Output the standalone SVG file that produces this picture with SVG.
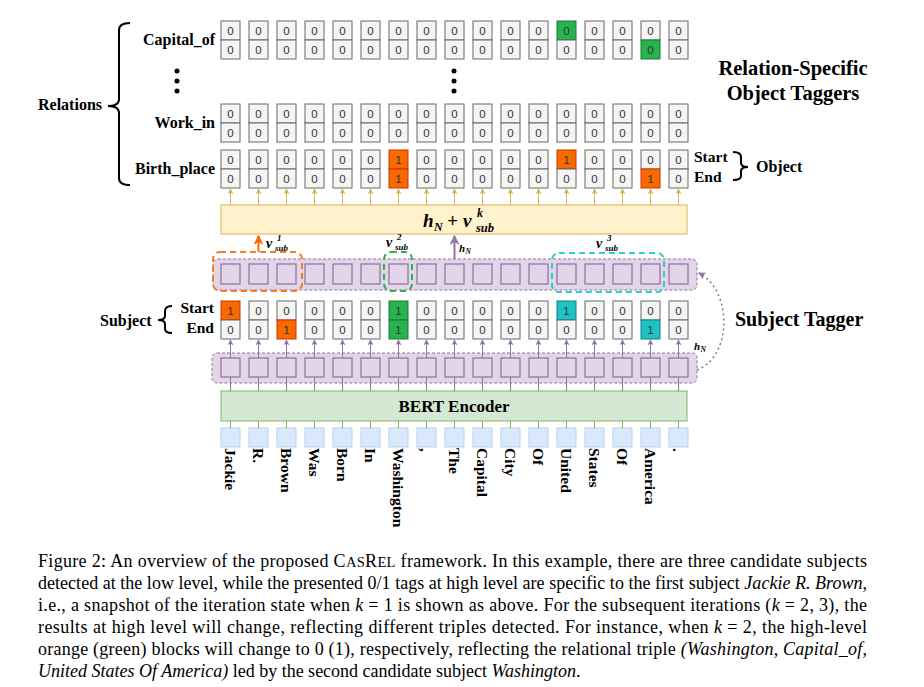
<svg xmlns="http://www.w3.org/2000/svg" width="924" height="687" viewBox="0 0 924 687">
<style>
.c{fill:#f5f5f5;stroke:#666;stroke-width:1}
.o{fill:#fa6800;stroke:#c73500;stroke-width:1}
.g{fill:#27b34f;stroke:#1c7a35;stroke-width:1}
.y{fill:#1bc3c3;stroke:#0e8088;stroke-width:1}
.t{font-family:"Liberation Sans",Arial,sans-serif;font-size:11.5px;fill:#333;text-anchor:middle}
.lb{font-family:"Liberation Serif","Times New Roman",serif;font-weight:bold;fill:#000}
.sq{fill:#e1d5e7;stroke:#9673a6;stroke-width:1.3}
.band{fill:#e1d5e7;stroke:#9673a6;stroke-width:1;stroke-dasharray:3 2}
.wb{fill:#dae8fc;stroke:#b8d0f0;stroke-width:1}
.ya{stroke:#d6b656;stroke-width:1;fill:none}
.pa{stroke:#9673a6;stroke-width:1;fill:none}
.ga{stroke:#82b366;stroke-width:1;fill:none}
.m{font-family:"Liberation Serif","Times New Roman",serif;font-weight:bold;font-style:italic;fill:#000}
.w{font-family:"Liberation Serif","Times New Roman",serif;font-weight:bold;font-size:15.5px;fill:#000;dominant-baseline:central}
.cap{font-family:"Liberation Serif","Times New Roman",serif;font-size:18px;fill:#000}
.br{fill:none;stroke:#000;stroke-width:2}
</style>
<defs>
<marker id="ay" viewBox="0 0 8 8" refX="7" refY="4" markerWidth="6" markerHeight="6" orient="auto"><path d="M0,0 L8,4 L0,8 L2,4 z" fill="#d6b656"/></marker>
<marker id="ap" viewBox="0 0 8 8" refX="7" refY="4" markerWidth="6" markerHeight="6" orient="auto"><path d="M0,0 L8,4 L0,8 L2,4 z" fill="#9673a6"/></marker>
<marker id="ao" viewBox="0 0 8 8" refX="7" refY="4" markerWidth="5" markerHeight="5" orient="auto"><path d="M0,0 L8,4 L0,8 L2,4 z" fill="#fa6800"/></marker>
<marker id="apb" viewBox="0 0 8 8" refX="7" refY="4" markerWidth="5" markerHeight="5" orient="auto"><path d="M0,0 L8,4 L0,8 L2,4 z" fill="#9673a6"/></marker>
</defs>
<rect width="924" height="687" fill="#fff"/>

<g id="relations-label">
<text class="lb" x="38" y="110" font-size="16">Relations</text>
<path class="br" d="M130,23 Q119,23 119,30 L119,99 Q119,106 108,106 Q119,106 119,113 L119,178 Q119,185 130,185"/>
</g>

<g id="title">
<text class="lb" x="793" y="75" font-size="20.5" text-anchor="middle">Relation-Specific</text>
<text class="lb" x="793" y="100" font-size="20.5" text-anchor="middle">Object Taggers</text>
</g>

<g id="row-capital">
<text class="lb" x="215" y="45" font-size="16" text-anchor="end">Capital_of</text>
<rect class="c" x="221" y="21" width="19" height="19"/><text class="t" x="230.5" y="34.5">0</text><rect class="c" x="221" y="40" width="19" height="19"/><text class="t" x="230.5" y="53.5">0</text>
<rect class="c" x="249" y="21" width="19" height="19"/><text class="t" x="258.5" y="34.5">0</text><rect class="c" x="249" y="40" width="19" height="19"/><text class="t" x="258.5" y="53.5">0</text>
<rect class="c" x="277" y="21" width="19" height="19"/><text class="t" x="286.5" y="34.5">0</text><rect class="c" x="277" y="40" width="19" height="19"/><text class="t" x="286.5" y="53.5">0</text>
<rect class="c" x="305" y="21" width="19" height="19"/><text class="t" x="314.5" y="34.5">0</text><rect class="c" x="305" y="40" width="19" height="19"/><text class="t" x="314.5" y="53.5">0</text>
<rect class="c" x="333" y="21" width="19" height="19"/><text class="t" x="342.5" y="34.5">0</text><rect class="c" x="333" y="40" width="19" height="19"/><text class="t" x="342.5" y="53.5">0</text>
<rect class="c" x="361" y="21" width="19" height="19"/><text class="t" x="370.5" y="34.5">0</text><rect class="c" x="361" y="40" width="19" height="19"/><text class="t" x="370.5" y="53.5">0</text>
<rect class="c" x="389" y="21" width="19" height="19"/><text class="t" x="398.5" y="34.5">0</text><rect class="c" x="389" y="40" width="19" height="19"/><text class="t" x="398.5" y="53.5">0</text>
<rect class="c" x="417" y="21" width="19" height="19"/><text class="t" x="426.5" y="34.5">0</text><rect class="c" x="417" y="40" width="19" height="19"/><text class="t" x="426.5" y="53.5">0</text>
<rect class="c" x="445" y="21" width="19" height="19"/><text class="t" x="454.5" y="34.5">0</text><rect class="c" x="445" y="40" width="19" height="19"/><text class="t" x="454.5" y="53.5">0</text>
<rect class="c" x="473" y="21" width="19" height="19"/><text class="t" x="482.5" y="34.5">0</text><rect class="c" x="473" y="40" width="19" height="19"/><text class="t" x="482.5" y="53.5">0</text>
<rect class="c" x="501" y="21" width="19" height="19"/><text class="t" x="510.5" y="34.5">0</text><rect class="c" x="501" y="40" width="19" height="19"/><text class="t" x="510.5" y="53.5">0</text>
<rect class="c" x="529" y="21" width="19" height="19"/><text class="t" x="538.5" y="34.5">0</text><rect class="c" x="529" y="40" width="19" height="19"/><text class="t" x="538.5" y="53.5">0</text>
<rect class="g" x="557" y="21" width="19" height="19"/><text class="t" x="566.5" y="34.5">0</text><rect class="c" x="557" y="40" width="19" height="19"/><text class="t" x="566.5" y="53.5">0</text>
<rect class="c" x="585" y="21" width="19" height="19"/><text class="t" x="594.5" y="34.5">0</text><rect class="c" x="585" y="40" width="19" height="19"/><text class="t" x="594.5" y="53.5">0</text>
<rect class="c" x="613" y="21" width="19" height="19"/><text class="t" x="622.5" y="34.5">0</text><rect class="c" x="613" y="40" width="19" height="19"/><text class="t" x="622.5" y="53.5">0</text>
<rect class="c" x="641" y="21" width="19" height="19"/><text class="t" x="650.5" y="34.5">0</text><rect class="g" x="641" y="40" width="19" height="19"/><text class="t" x="650.5" y="53.5">0</text>
<rect class="c" x="669" y="21" width="19" height="19"/><text class="t" x="678.5" y="34.5">0</text><rect class="c" x="669" y="40" width="19" height="19"/><text class="t" x="678.5" y="53.5">0</text>
</g>

<g id="ellipsis">
<circle cx="177" cy="71" r="2.5"/><circle cx="177" cy="81" r="2.5"/><circle cx="177" cy="91" r="2.5"/>
<circle cx="454" cy="71" r="2.5"/><circle cx="454" cy="81" r="2.5"/><circle cx="454" cy="91" r="2.5"/>
</g>

<g id="row-workin">
<text class="lb" x="215" y="128" font-size="16" text-anchor="end">Work_in</text>
<rect class="c" x="221" y="104" width="19" height="19"/><text class="t" x="230.5" y="117.5">0</text><rect class="c" x="221" y="123" width="19" height="19"/><text class="t" x="230.5" y="136.5">0</text>
<rect class="c" x="249" y="104" width="19" height="19"/><text class="t" x="258.5" y="117.5">0</text><rect class="c" x="249" y="123" width="19" height="19"/><text class="t" x="258.5" y="136.5">0</text>
<rect class="c" x="277" y="104" width="19" height="19"/><text class="t" x="286.5" y="117.5">0</text><rect class="c" x="277" y="123" width="19" height="19"/><text class="t" x="286.5" y="136.5">0</text>
<rect class="c" x="305" y="104" width="19" height="19"/><text class="t" x="314.5" y="117.5">0</text><rect class="c" x="305" y="123" width="19" height="19"/><text class="t" x="314.5" y="136.5">0</text>
<rect class="c" x="333" y="104" width="19" height="19"/><text class="t" x="342.5" y="117.5">0</text><rect class="c" x="333" y="123" width="19" height="19"/><text class="t" x="342.5" y="136.5">0</text>
<rect class="c" x="361" y="104" width="19" height="19"/><text class="t" x="370.5" y="117.5">0</text><rect class="c" x="361" y="123" width="19" height="19"/><text class="t" x="370.5" y="136.5">0</text>
<rect class="c" x="389" y="104" width="19" height="19"/><text class="t" x="398.5" y="117.5">0</text><rect class="c" x="389" y="123" width="19" height="19"/><text class="t" x="398.5" y="136.5">0</text>
<rect class="c" x="417" y="104" width="19" height="19"/><text class="t" x="426.5" y="117.5">0</text><rect class="c" x="417" y="123" width="19" height="19"/><text class="t" x="426.5" y="136.5">0</text>
<rect class="c" x="445" y="104" width="19" height="19"/><text class="t" x="454.5" y="117.5">0</text><rect class="c" x="445" y="123" width="19" height="19"/><text class="t" x="454.5" y="136.5">0</text>
<rect class="c" x="473" y="104" width="19" height="19"/><text class="t" x="482.5" y="117.5">0</text><rect class="c" x="473" y="123" width="19" height="19"/><text class="t" x="482.5" y="136.5">0</text>
<rect class="c" x="501" y="104" width="19" height="19"/><text class="t" x="510.5" y="117.5">0</text><rect class="c" x="501" y="123" width="19" height="19"/><text class="t" x="510.5" y="136.5">0</text>
<rect class="c" x="529" y="104" width="19" height="19"/><text class="t" x="538.5" y="117.5">0</text><rect class="c" x="529" y="123" width="19" height="19"/><text class="t" x="538.5" y="136.5">0</text>
<rect class="c" x="557" y="104" width="19" height="19"/><text class="t" x="566.5" y="117.5">0</text><rect class="c" x="557" y="123" width="19" height="19"/><text class="t" x="566.5" y="136.5">0</text>
<rect class="c" x="585" y="104" width="19" height="19"/><text class="t" x="594.5" y="117.5">0</text><rect class="c" x="585" y="123" width="19" height="19"/><text class="t" x="594.5" y="136.5">0</text>
<rect class="c" x="613" y="104" width="19" height="19"/><text class="t" x="622.5" y="117.5">0</text><rect class="c" x="613" y="123" width="19" height="19"/><text class="t" x="622.5" y="136.5">0</text>
<rect class="c" x="641" y="104" width="19" height="19"/><text class="t" x="650.5" y="117.5">0</text><rect class="c" x="641" y="123" width="19" height="19"/><text class="t" x="650.5" y="136.5">0</text>
<rect class="c" x="669" y="104" width="19" height="19"/><text class="t" x="678.5" y="117.5">0</text><rect class="c" x="669" y="123" width="19" height="19"/><text class="t" x="678.5" y="136.5">0</text>
</g>

<g id="row-birthplace">
<text class="lb" x="215" y="174" font-size="16" text-anchor="end">Birth_place</text>
<rect class="c" x="221" y="150" width="19" height="19"/><text class="t" x="230.5" y="163.5">0</text><rect class="c" x="221" y="169" width="19" height="19"/><text class="t" x="230.5" y="182.5">0</text>
<rect class="c" x="249" y="150" width="19" height="19"/><text class="t" x="258.5" y="163.5">0</text><rect class="c" x="249" y="169" width="19" height="19"/><text class="t" x="258.5" y="182.5">0</text>
<rect class="c" x="277" y="150" width="19" height="19"/><text class="t" x="286.5" y="163.5">0</text><rect class="c" x="277" y="169" width="19" height="19"/><text class="t" x="286.5" y="182.5">0</text>
<rect class="c" x="305" y="150" width="19" height="19"/><text class="t" x="314.5" y="163.5">0</text><rect class="c" x="305" y="169" width="19" height="19"/><text class="t" x="314.5" y="182.5">0</text>
<rect class="c" x="333" y="150" width="19" height="19"/><text class="t" x="342.5" y="163.5">0</text><rect class="c" x="333" y="169" width="19" height="19"/><text class="t" x="342.5" y="182.5">0</text>
<rect class="c" x="361" y="150" width="19" height="19"/><text class="t" x="370.5" y="163.5">0</text><rect class="c" x="361" y="169" width="19" height="19"/><text class="t" x="370.5" y="182.5">0</text>
<rect class="o" x="389" y="150" width="19" height="19"/><text class="t" x="398.5" y="163.5">1</text><rect class="o" x="389" y="169" width="19" height="19"/><text class="t" x="398.5" y="182.5">1</text>
<rect class="c" x="417" y="150" width="19" height="19"/><text class="t" x="426.5" y="163.5">0</text><rect class="c" x="417" y="169" width="19" height="19"/><text class="t" x="426.5" y="182.5">0</text>
<rect class="c" x="445" y="150" width="19" height="19"/><text class="t" x="454.5" y="163.5">0</text><rect class="c" x="445" y="169" width="19" height="19"/><text class="t" x="454.5" y="182.5">0</text>
<rect class="c" x="473" y="150" width="19" height="19"/><text class="t" x="482.5" y="163.5">0</text><rect class="c" x="473" y="169" width="19" height="19"/><text class="t" x="482.5" y="182.5">0</text>
<rect class="c" x="501" y="150" width="19" height="19"/><text class="t" x="510.5" y="163.5">0</text><rect class="c" x="501" y="169" width="19" height="19"/><text class="t" x="510.5" y="182.5">0</text>
<rect class="c" x="529" y="150" width="19" height="19"/><text class="t" x="538.5" y="163.5">0</text><rect class="c" x="529" y="169" width="19" height="19"/><text class="t" x="538.5" y="182.5">0</text>
<rect class="o" x="557" y="150" width="19" height="19"/><text class="t" x="566.5" y="163.5">1</text><rect class="c" x="557" y="169" width="19" height="19"/><text class="t" x="566.5" y="182.5">0</text>
<rect class="c" x="585" y="150" width="19" height="19"/><text class="t" x="594.5" y="163.5">0</text><rect class="c" x="585" y="169" width="19" height="19"/><text class="t" x="594.5" y="182.5">0</text>
<rect class="c" x="613" y="150" width="19" height="19"/><text class="t" x="622.5" y="163.5">0</text><rect class="c" x="613" y="169" width="19" height="19"/><text class="t" x="622.5" y="182.5">0</text>
<rect class="c" x="641" y="150" width="19" height="19"/><text class="t" x="650.5" y="163.5">0</text><rect class="o" x="641" y="169" width="19" height="19"/><text class="t" x="650.5" y="182.5">1</text>
<rect class="c" x="669" y="150" width="19" height="19"/><text class="t" x="678.5" y="163.5">0</text><rect class="c" x="669" y="169" width="19" height="19"/><text class="t" x="678.5" y="182.5">0</text>
</g>

<g id="object-label">
<text class="lb" x="694" y="162" font-size="15.5">Start</text>
<text class="lb" x="694" y="182" font-size="15.5">End</text>
<path class="br" d="M733,152 Q741,152 741,157 L741,163 Q741,167 748,167 Q741,167 741,171 L741,176 Q741,180 733,180"/>
<text class="lb" x="756" y="172" font-size="16">Object</text>
</g>

<g id="fusion-box">
<rect x="221" y="205" width="466" height="29" fill="#fff2cc" stroke="#d6b656" stroke-width="1"/>
<text class="m" x="423" y="227" font-size="19">h</text>
<text class="m" x="434" y="231" font-size="12">N</text>
<text class="m" x="447" y="227" font-size="19">+</text>
<text class="m" x="463" y="227" font-size="19">v</text>
<text class="m" x="477" y="217" font-size="12">k</text>
<text class="m" x="476" y="232" font-size="12.5">sub</text>
</g>

<g id="upper-band">
<rect class="band" x="213" y="259" width="484" height="31" rx="5"/>
<rect class="sq" x="221" y="264" width="19" height="20"/><rect class="sq" x="249" y="264" width="19" height="20"/><rect class="sq" x="277" y="264" width="19" height="20"/><rect class="sq" x="305" y="264" width="19" height="20"/><rect class="sq" x="333" y="264" width="19" height="20"/><rect class="sq" x="361" y="264" width="19" height="20"/><rect class="sq" x="389" y="264" width="19" height="20"/><rect class="sq" x="417" y="264" width="19" height="20"/><rect class="sq" x="445" y="264" width="19" height="20"/><rect class="sq" x="473" y="264" width="19" height="20"/><rect class="sq" x="501" y="264" width="19" height="20"/><rect class="sq" x="529" y="264" width="19" height="20"/><rect class="sq" x="557" y="264" width="19" height="20"/><rect class="sq" x="585" y="264" width="19" height="20"/><rect class="sq" x="613" y="264" width="19" height="20"/><rect class="sq" x="641" y="264" width="19" height="20"/><rect class="sq" x="669" y="264" width="19" height="20"/>
</g>

<g id="candidate-boxes">
<rect x="213" y="252" width="89" height="39" rx="7" fill="none" stroke="#fa7a1e" stroke-width="2" stroke-dasharray="6 4"/>
<rect x="384" y="252" width="28" height="39" rx="7" fill="none" stroke="#2ab34e" stroke-width="2" stroke-dasharray="6 4"/>
<rect x="552" y="253" width="112" height="39" rx="7" fill="none" stroke="#2ccfcf" stroke-width="2" stroke-dasharray="6 4"/>
<text class="m" x="266" y="248" font-size="14">v</text><text class="m" x="277" y="241" font-size="9">1</text><text class="m" x="275" y="251" font-size="9">sub</text>
<text class="m" x="386" y="247" font-size="14">v</text><text class="m" x="397" y="240" font-size="9">2</text><text class="m" x="395" y="250" font-size="9">sub</text>
<text class="m" x="596" y="248" font-size="14">v</text><text class="m" x="607" y="241" font-size="9">3</text><text class="m" x="605" y="251" font-size="9">sub</text>
<text class="m" x="459" y="252" font-size="11">h</text><text class="m" x="465.5" y="254" font-size="7.5">N</text>
</g>

<g id="subject-tags">
<text class="lb" x="100" y="326" font-size="16">Subject</text>
<path class="br" d="M172,306 Q165,306 165,311 L165,316 Q165,320 158,320 Q165,320 165,324 L165,329 Q165,333 172,333"/>
<text class="lb" x="214" y="313" font-size="15.5" text-anchor="end">Start</text>
<text class="lb" x="214" y="333" font-size="15.5" text-anchor="end">End</text>
<rect class="o" x="221" y="301" width="19" height="19"/><text class="t" x="230.5" y="314.5">1</text><rect class="c" x="221" y="320" width="19" height="19"/><text class="t" x="230.5" y="333.5">0</text>
<rect class="c" x="249" y="301" width="19" height="19"/><text class="t" x="258.5" y="314.5">0</text><rect class="c" x="249" y="320" width="19" height="19"/><text class="t" x="258.5" y="333.5">0</text>
<rect class="c" x="277" y="301" width="19" height="19"/><text class="t" x="286.5" y="314.5">0</text><rect class="o" x="277" y="320" width="19" height="19"/><text class="t" x="286.5" y="333.5">1</text>
<rect class="c" x="305" y="301" width="19" height="19"/><text class="t" x="314.5" y="314.5">0</text><rect class="c" x="305" y="320" width="19" height="19"/><text class="t" x="314.5" y="333.5">0</text>
<rect class="c" x="333" y="301" width="19" height="19"/><text class="t" x="342.5" y="314.5">0</text><rect class="c" x="333" y="320" width="19" height="19"/><text class="t" x="342.5" y="333.5">0</text>
<rect class="c" x="361" y="301" width="19" height="19"/><text class="t" x="370.5" y="314.5">0</text><rect class="c" x="361" y="320" width="19" height="19"/><text class="t" x="370.5" y="333.5">0</text>
<rect class="g" x="389" y="301" width="19" height="19"/><text class="t" x="398.5" y="314.5">1</text><rect class="g" x="389" y="320" width="19" height="19"/><text class="t" x="398.5" y="333.5">1</text>
<rect class="c" x="417" y="301" width="19" height="19"/><text class="t" x="426.5" y="314.5">0</text><rect class="c" x="417" y="320" width="19" height="19"/><text class="t" x="426.5" y="333.5">0</text>
<rect class="c" x="445" y="301" width="19" height="19"/><text class="t" x="454.5" y="314.5">0</text><rect class="c" x="445" y="320" width="19" height="19"/><text class="t" x="454.5" y="333.5">0</text>
<rect class="c" x="473" y="301" width="19" height="19"/><text class="t" x="482.5" y="314.5">0</text><rect class="c" x="473" y="320" width="19" height="19"/><text class="t" x="482.5" y="333.5">0</text>
<rect class="c" x="501" y="301" width="19" height="19"/><text class="t" x="510.5" y="314.5">0</text><rect class="c" x="501" y="320" width="19" height="19"/><text class="t" x="510.5" y="333.5">0</text>
<rect class="c" x="529" y="301" width="19" height="19"/><text class="t" x="538.5" y="314.5">0</text><rect class="c" x="529" y="320" width="19" height="19"/><text class="t" x="538.5" y="333.5">0</text>
<rect class="y" x="557" y="301" width="19" height="19"/><text class="t" x="566.5" y="314.5">1</text><rect class="c" x="557" y="320" width="19" height="19"/><text class="t" x="566.5" y="333.5">0</text>
<rect class="c" x="585" y="301" width="19" height="19"/><text class="t" x="594.5" y="314.5">0</text><rect class="c" x="585" y="320" width="19" height="19"/><text class="t" x="594.5" y="333.5">0</text>
<rect class="c" x="613" y="301" width="19" height="19"/><text class="t" x="622.5" y="314.5">0</text><rect class="c" x="613" y="320" width="19" height="19"/><text class="t" x="622.5" y="333.5">0</text>
<rect class="c" x="641" y="301" width="19" height="19"/><text class="t" x="650.5" y="314.5">0</text><rect class="y" x="641" y="320" width="19" height="19"/><text class="t" x="650.5" y="333.5">1</text>
<rect class="c" x="669" y="301" width="19" height="19"/><text class="t" x="678.5" y="314.5">0</text><rect class="c" x="669" y="320" width="19" height="19"/><text class="t" x="678.5" y="333.5">0</text>
</g>

<g id="subject-tagger-label">
<text class="lb" x="735" y="326" font-size="20">Subject Tagger</text>
</g>

<g id="lower-band">
<rect class="band" x="212" y="353" width="485" height="30" rx="5"/>
<rect class="sq" x="221" y="358" width="19" height="19"/><rect class="sq" x="249" y="358" width="19" height="19"/><rect class="sq" x="277" y="358" width="19" height="19"/><rect class="sq" x="305" y="358" width="19" height="19"/><rect class="sq" x="333" y="358" width="19" height="19"/><rect class="sq" x="361" y="358" width="19" height="19"/><rect class="sq" x="389" y="358" width="19" height="19"/><rect class="sq" x="417" y="358" width="19" height="19"/><rect class="sq" x="445" y="358" width="19" height="19"/><rect class="sq" x="473" y="358" width="19" height="19"/><rect class="sq" x="501" y="358" width="19" height="19"/><rect class="sq" x="529" y="358" width="19" height="19"/><rect class="sq" x="557" y="358" width="19" height="19"/><rect class="sq" x="585" y="358" width="19" height="19"/><rect class="sq" x="613" y="358" width="19" height="19"/><rect class="sq" x="641" y="358" width="19" height="19"/><rect class="sq" x="669" y="358" width="19" height="19"/>
</g>

<g id="bert">
<rect x="221" y="391" width="466" height="30" fill="#d5e8d4" stroke="#82b366" stroke-width="1"/>
<text class="lb" x="454" y="412" font-size="17" text-anchor="middle">BERT Encoder</text>
</g>

<g id="tokens">
<rect class="wb" x="221" y="428" width="19" height="19"/><rect class="wb" x="249" y="428" width="19" height="19"/><rect class="wb" x="277" y="428" width="19" height="19"/><rect class="wb" x="305" y="428" width="19" height="19"/><rect class="wb" x="333" y="428" width="19" height="19"/><rect class="wb" x="361" y="428" width="19" height="19"/><rect class="wb" x="389" y="428" width="19" height="19"/><rect class="wb" x="417" y="428" width="19" height="19"/><rect class="wb" x="445" y="428" width="19" height="19"/><rect class="wb" x="473" y="428" width="19" height="19"/><rect class="wb" x="501" y="428" width="19" height="19"/><rect class="wb" x="529" y="428" width="19" height="19"/><rect class="wb" x="557" y="428" width="19" height="19"/><rect class="wb" x="585" y="428" width="19" height="19"/><rect class="wb" x="613" y="428" width="19" height="19"/><rect class="wb" x="641" y="428" width="19" height="19"/><rect class="wb" x="669" y="428" width="19" height="19"/>
<text class="w" transform="translate(230.5,448) rotate(90)">Jackie</text>
<text class="w" transform="translate(258.5,448) rotate(90)">R.</text>
<text class="w" transform="translate(286.5,448) rotate(90)">Brown</text>
<text class="w" transform="translate(314.5,448) rotate(90)">Was</text>
<text class="w" transform="translate(342.5,448) rotate(90)">Born</text>
<text class="w" transform="translate(370.5,448) rotate(90)">In</text>
<text class="w" transform="translate(398.5,448) rotate(90)">Washington</text>
<text class="w" transform="translate(426.5,448) rotate(90)">,</text>
<text class="w" transform="translate(454.5,448) rotate(90)">The</text>
<text class="w" transform="translate(482.5,448) rotate(90)">Capital</text>
<text class="w" transform="translate(510.5,448) rotate(90)">City</text>
<text class="w" transform="translate(538.5,448) rotate(90)">Of</text>
<text class="w" transform="translate(566.5,448) rotate(90)">United</text>
<text class="w" transform="translate(594.5,448) rotate(90)">States</text>
<text class="w" transform="translate(622.5,448) rotate(90)">Of</text>
<text class="w" transform="translate(650.5,448) rotate(90)">America</text>
<text class="w" transform="translate(678.5,448) rotate(90)">.</text>
</g>

<g id="connectors">
<g class="ya">
<path d="M230.5,205V189" marker-end="url(#ay)"/><path d="M258.5,205V189" marker-end="url(#ay)"/><path d="M286.5,205V189" marker-end="url(#ay)"/><path d="M314.5,205V189" marker-end="url(#ay)"/><path d="M342.5,205V189" marker-end="url(#ay)"/><path d="M370.5,205V189" marker-end="url(#ay)"/><path d="M398.5,205V189" marker-end="url(#ay)"/><path d="M426.5,205V189" marker-end="url(#ay)"/><path d="M454.5,205V189" marker-end="url(#ay)"/><path d="M482.5,205V189" marker-end="url(#ay)"/><path d="M510.5,205V189" marker-end="url(#ay)"/><path d="M538.5,205V189" marker-end="url(#ay)"/><path d="M566.5,205V189" marker-end="url(#ay)"/><path d="M594.5,205V189" marker-end="url(#ay)"/><path d="M622.5,205V189" marker-end="url(#ay)"/><path d="M650.5,205V189" marker-end="url(#ay)"/><path d="M678.5,205V189" marker-end="url(#ay)"/>
</g>
<g class="pa">
<path d="M230.5,358V340" marker-end="url(#ap)"/><path d="M258.5,358V340" marker-end="url(#ap)"/><path d="M286.5,358V340" marker-end="url(#ap)"/><path d="M314.5,358V340" marker-end="url(#ap)"/><path d="M342.5,358V340" marker-end="url(#ap)"/><path d="M370.5,358V340" marker-end="url(#ap)"/><path d="M398.5,358V340" marker-end="url(#ap)"/><path d="M426.5,358V340" marker-end="url(#ap)"/><path d="M454.5,358V340" marker-end="url(#ap)"/><path d="M482.5,358V340" marker-end="url(#ap)"/><path d="M510.5,358V340" marker-end="url(#ap)"/><path d="M538.5,358V340" marker-end="url(#ap)"/><path d="M566.5,358V340" marker-end="url(#ap)"/><path d="M594.5,358V340" marker-end="url(#ap)"/><path d="M622.5,358V340" marker-end="url(#ap)"/><path d="M650.5,358V340" marker-end="url(#ap)"/><path d="M678.5,358V340" marker-end="url(#ap)"/>
<path d="M230.5,391V377M258.5,391V377M286.5,391V377M314.5,391V377M342.5,391V377M370.5,391V377M398.5,391V377M426.5,391V377M454.5,391V377M482.5,391V377M510.5,391V377M538.5,391V377M566.5,391V377M594.5,391V377M622.5,391V377M650.5,391V377M678.5,391V377"/>
</g>
<path class="ga" d="M230.5,421V428M258.5,421V428M286.5,421V428M314.5,421V428M342.5,421V428M370.5,421V428M398.5,421V428M426.5,421V428M454.5,421V428M482.5,421V428M510.5,421V428M538.5,421V428M566.5,421V428M594.5,421V428M622.5,421V428M650.5,421V428M678.5,421V428"/>
<path d="M258.5,252V236" stroke="#fa6800" stroke-width="2" fill="none" marker-end="url(#ao)"/>
<path d="M454.5,259V236" stroke="#9673a6" stroke-width="2" fill="none" marker-end="url(#apb)"/>
<path d="M697,370 C733,356 732,290 699,273" stroke="#9673a6" stroke-width="1.5" stroke-dasharray="2 3" fill="none" marker-end="url(#apb)"/>
<text class="m" x="694" y="350" font-size="11">h</text><text class="m" x="700.5" y="352" font-size="7.5">N</text>
</g>

<g id="caption">
<text class="cap" x="38" y="567" textLength="829" lengthAdjust="spacing">Figure 2: An overview of the proposed C<tspan font-size="14.5">AS</tspan>R<tspan font-size="14.5">EL</tspan> framework. In this example, there are three candidate subjects</text>
<text class="cap" x="38" y="589" textLength="829" lengthAdjust="spacing">detected at the low level, while the presented 0/1 tags at high level are specific to the first subject <tspan font-style="italic">Jackie R. Brown</tspan>,</text>
<text class="cap" x="38" y="611" textLength="829" lengthAdjust="spacing">i.e., a snapshot of the iteration state when <tspan font-style="italic">k</tspan> = 1 is shown as above. For the subsequent iterations (<tspan font-style="italic">k</tspan> = 2, 3), the</text>
<text class="cap" x="38" y="633" textLength="829" lengthAdjust="spacing">results at high level will change, reflecting different triples detected. For instance, when <tspan font-style="italic">k</tspan> = 2, the high-level</text>
<text class="cap" x="38" y="655" textLength="829" lengthAdjust="spacing">orange (green) blocks will change to 0 (1), respectively, reflecting the relational triple <tspan font-style="italic">(Washington, Capital_of,</tspan></text>
<text class="cap" x="38" y="677"><tspan font-style="italic">United States Of America)</tspan> led by the second candidate subject <tspan font-style="italic">Washington</tspan>.</text>
</g>
</svg>
